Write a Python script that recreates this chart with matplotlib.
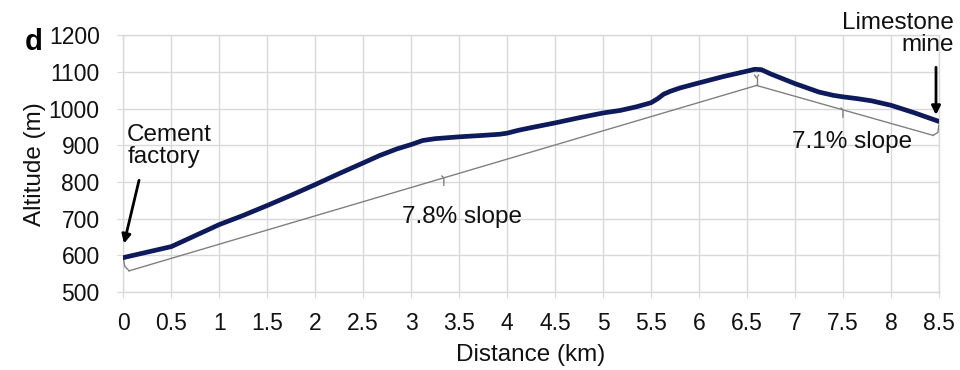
import matplotlib
matplotlib.use("Agg")
import matplotlib.pyplot as plt
import numpy as np

plt.rcParams['font.family'] = ['Liberation Sans', 'DejaVu Sans']

# Elevation profile (km, m)
distance_km = [0, 0.25, 0.5, 0.75, 1.0, 1.25, 1.5, 1.75, 2.0, 2.25, 2.5, 2.67, 2.85, 3.0,
               3.12, 3.25, 3.5, 3.75, 3.92, 4.0, 4.12, 4.25, 4.5, 4.75, 5.0, 5.18, 5.35,
               5.5, 5.57, 5.63, 5.7, 5.8, 6.0, 6.25, 6.5, 6.58, 6.65,
               6.75, 7.0, 7.25, 7.4, 7.5, 7.65, 7.8, 8.0, 8.25, 8.5]
altitude_m = [594, 609, 624, 654, 684, 709, 736, 764, 793, 823, 852, 872, 890, 902,
              913, 918, 923, 927, 930, 933, 941, 948, 961, 975, 988, 995, 1005,
              1016, 1027, 1039, 1047, 1056, 1070, 1087, 1102, 1107, 1106,
              1094, 1068, 1045, 1036, 1032, 1027, 1021, 1009, 988, 965]

# Slope braces: start, peak, end of the straight-line approximations
brace_x = [0.06, 6.6, 8.44]
brace_y = [558, 1063, 927]
brace_tick_x = [3.34, 7.5]
slope_labels = ["7.8% slope", "7.1% slope"]

xticks = np.arange(0, 8.51, 0.5)
xticklabels = ["0", "0.5", "1", "1.5", "2", "2.5", "3", "3.5", "4", "4.5", "5", "5.5",
               "6", "6.5", "7", "7.5", "8", "8.5"]
yticks = list(range(500, 1201, 100))

fig = plt.figure(figsize=(9.6, 3.7), dpi=100)
ax = fig.add_axes([0.1285, 0.2105, 0.8495, 0.6945])

tc = '#111111'
fs = 17.5
grid_c = '#d9d9d9'
ax.set_xlim(0, 8.5)
ax.set_ylim(500, 1200)
ax.set_xticks(xticks)
ax.set_xticklabels(xticklabels)
ax.set_yticks(yticks)
ax.grid(True, color=grid_c, lw=1)
for s in ax.spines.values():
    s.set_color(grid_c)
    s.set_linewidth(1)
ax.tick_params(axis='both', length=4, color=grid_c, labelsize=16.5, labelcolor=tc)
ax.tick_params(axis='x', pad=10)
ax.tick_params(axis='y', pad=13)

# brace (grey thin line)
gc = '#808080'
blw = 1.0
ax.plot([0, 0.015, brace_x[0]], [592, 570, brace_y[0]], color=gc, lw=blw, zorder=3)
ax.plot(brace_x[:2], brace_y[:2], color=gc, lw=blw, zorder=3)
ax.plot(brace_x[1:], brace_y[1:], color=gc, lw=blw, zorder=3)
ax.plot([brace_x[2], 8.49, 8.5], [brace_y[2], 935, 955], color=gc, lw=blw, zorder=3)
# peak tick
ax.plot([brace_x[1], brace_x[1]], [brace_y[1], brace_y[1] + 20], color=gc, lw=blw, zorder=3)
ax.plot([brace_x[1] - 0.02, brace_x[1], brace_x[1] + 0.02],
        [brace_y[1] + 28, brace_y[1] + 20, brace_y[1] + 28], color=gc, lw=blw, zorder=3)
# middle ticks
segs = [(brace_x[0], brace_y[0], brace_x[1], brace_y[1]),
        (brace_x[1], brace_y[1], brace_x[2], brace_y[2])]
for xm, (xa, ya, xb, yb) in zip(brace_tick_x, segs):
    ym = ya + (yb - ya) * (xm - xa) / (xb - xa)
    ax.plot([xm - 0.02, xm, xm], [ym + 5, ym, ym - 20], color=gc, lw=blw, zorder=3)

# elevation profile
ax.plot(distance_km, altitude_m, color='#0d1a5c', lw=3.4, solid_capstyle='round',
        solid_joinstyle='round', zorder=4)

# slope labels
ax.text(3.53, 705, slope_labels[0], fontsize=fs, ha='center', va='center', color=tc)
ax.text(7.59, 909, slope_labels[1], fontsize=fs, ha='center', va='center', color=tc)

# annotations
ax.text(0.04, 897, "Cement\nfactory", fontsize=fs, ha='left', va='center',
        color=tc, linespacing=1.0)
ax.annotate("", xy=(0.0, 625), xytext=(0.17, 812),
            arrowprops=dict(arrowstyle='-|>', color='black', lw=2, mutation_scale=13),
            annotation_clip=False)
ax.text(8.66, 1203, "Limestone\nmine", fontsize=fs, ha='right', va='center',
        color=tc, linespacing=1.0, clip_on=False)
ax.annotate("", xy=(8.47, 975), xytext=(8.47, 1120),
            arrowprops=dict(arrowstyle='-|>', color='black', lw=2, mutation_scale=13),
            annotation_clip=False)

ax.set_xlabel("Distance (km)", fontsize=fs, color=tc, labelpad=7)
ax.set_ylabel("Altitude (m)", fontsize=fs, color=tc, labelpad=2)

fig.text(0.035, 0.887, "d", fontsize=21, fontweight='bold', ha='center', va='center')

fig.savefig("out.png", dpi=100)
